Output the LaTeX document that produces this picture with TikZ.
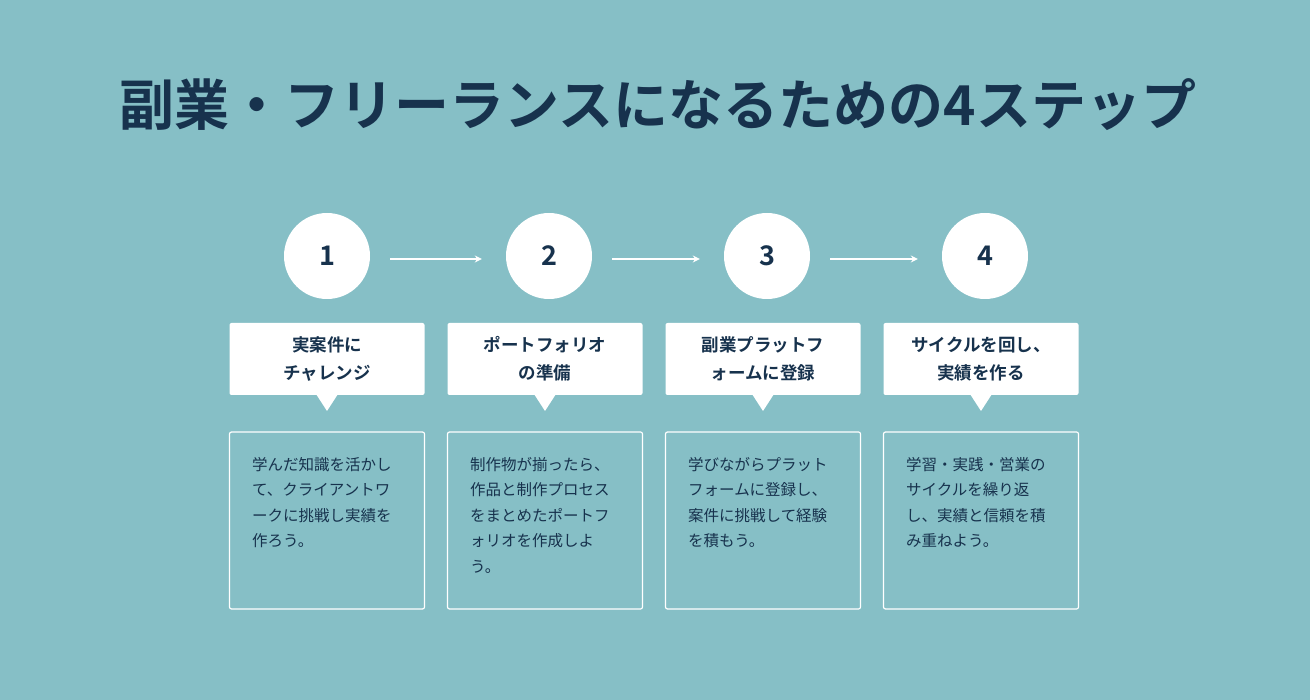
\documentclass[tikz,border=0pt]{standalone}
\usepackage{fontspec}
\usetikzlibrary{arrows.meta}
\newfontfamily\cjk{Noto Sans CJK JP}
\newfontfamily\cjkb{Noto Sans CJK JP Bold}
\definecolor{bg}{HTML}{86BFC6}
\definecolor{navy}{HTML}{17324D}
\begin{document}
\begin{tikzpicture}[x=1pt,y=-1pt,
  circ/.style={circle,fill=white,minimum size=86pt,inner sep=0pt,font=\cjkb\fontsize{27}{30}\selectfont,text=navy},
  lbl/.style={fill=white,rounded corners=2pt,minimum width=195pt,minimum height=72pt,inner sep=0pt,align=center,font=\cjkb\fontsize{17.5}{28}\selectfont,text=navy},
  desc/.style={draw=white,line width=1.2pt,rounded corners=2pt,minimum width=195pt,minimum height=177pt},
  dtext/.style={anchor=north west,align=left,font=\cjk\fontsize{15.5}{25.5}\selectfont,text=navy,inner sep=0pt},
  arr/.style={draw=white,line width=1.8pt,-{Stealth[length=7pt,width=7pt]},shorten <=20pt,shorten >=24pt}]
\fill[bg] (0,0) rectangle (1310,700);
\useasboundingbox (0,0) rectangle (1310,700);
\node[font=\cjkb\fontsize{55}{60}\selectfont,text=navy] (title) at (658,105) {副業・フリーランスになるための4ステップ};
\foreach \i/\x/\cx/\l/\d in {
 1/327/327/{実案件に\\チャレンジ}/{学んだ知識を活かし\\て、クライアントワ\\ークに挑戦し実績を\\作ろう。},
 2/545/549/{ポートフォリオ\\の準備}/{制作物が揃ったら、\\作品と制作プロセス\\をまとめたポートフ\\ォリオを作成しよ\\う。},
 3/763/767/{副業プラットフ\\ォームに登録}/{学びながらプラット\\フォームに登録し、\\案件に挑戦して経験\\を積もう。},
 4/981/985/{サイクルを回し、\\実績を作る}/{学習・実践・営業の\\サイクルを繰り返\\し、実績と信頼を積\\み重ねよう。}}{
  \node[circ] (c\i) at (\cx,256) {\i};
  \node[lbl] (l\i) at (\x,359) {\l};
  \fill[white] (\x-11,394) -- (\x+11,394) -- (\x,411) -- cycle;
  \node[desc] (d\i) at (\x,520.5) {};
  \node[dtext] (t\i) at (\x-75,457) {\d};
}
\foreach \a/\b in {1/2,2/3,3/4}{
  \draw[arr] ([yshift=-3pt]c\a.east) -- ([yshift=-3pt]c\b.west);
}
\end{tikzpicture}
\end{document}
